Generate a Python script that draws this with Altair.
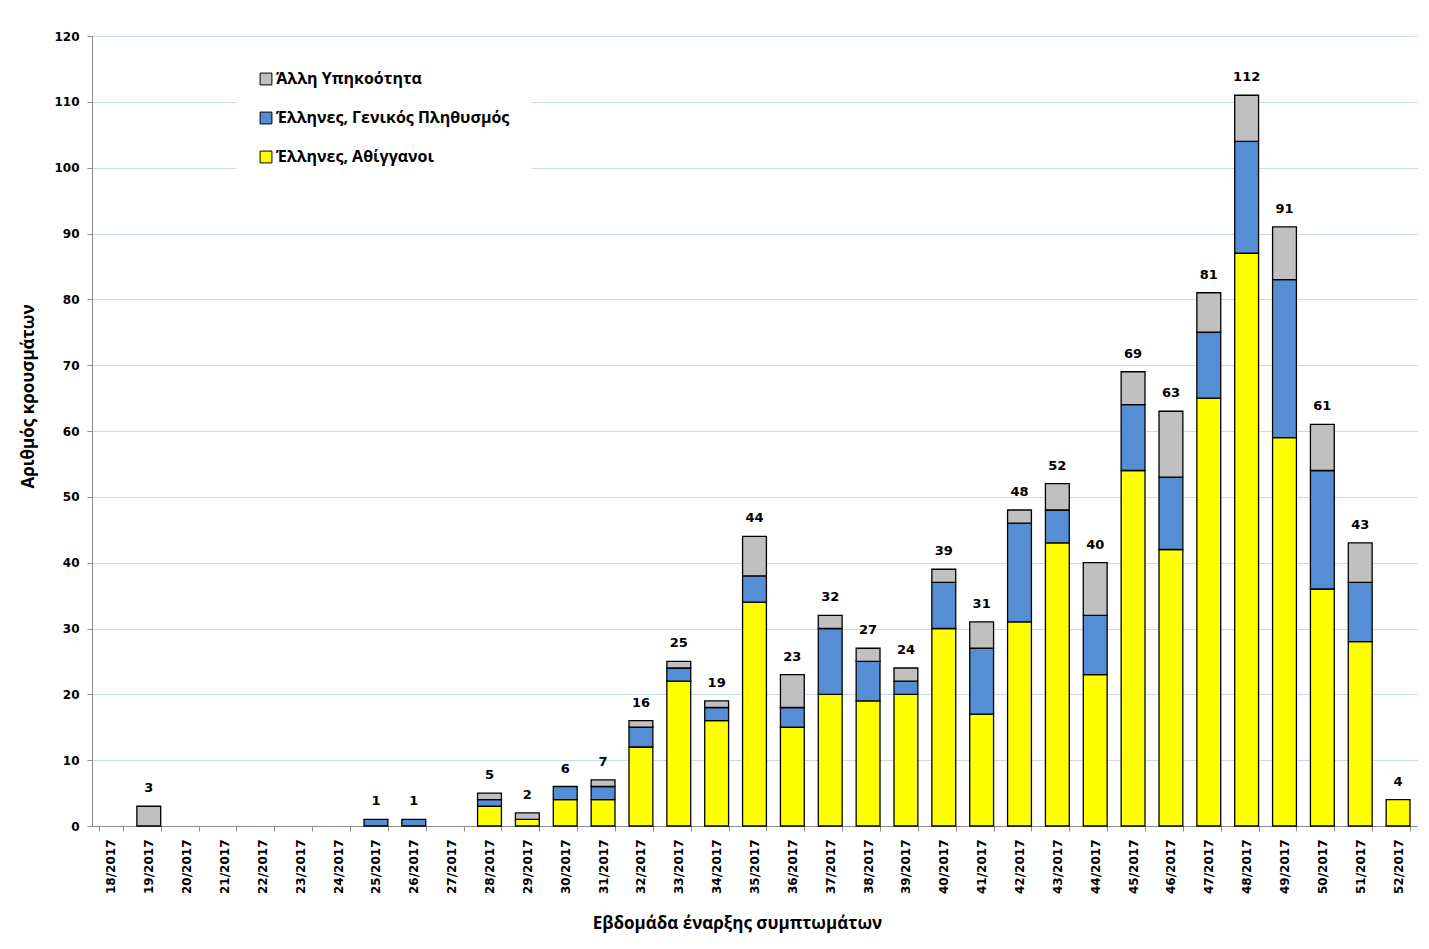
import altair as alt
import pandas as pd

weeks = ["18/2017", "19/2017", "20/2017", "21/2017", "22/2017", "23/2017", "24/2017",
         "25/2017", "26/2017", "27/2017", "28/2017", "29/2017", "30/2017", "31/2017",
         "32/2017", "33/2017", "34/2017", "35/2017", "36/2017", "37/2017", "38/2017",
         "39/2017", "40/2017", "41/2017", "42/2017", "43/2017", "44/2017", "45/2017",
         "46/2017", "47/2017", "48/2017", "49/2017", "50/2017", "51/2017", "52/2017"]

roma = [0, 0, 0, 0, 0, 0, 0, 0, 0, 0,
        3, 1, 4, 4, 12, 22, 16, 34, 15, 20,
        19, 20, 30, 17, 31, 43, 23, 54, 42, 65,
        87, 59, 36, 28, 4]
general = [0, 0, 0, 0, 0, 0, 0, 1, 1, 0,
           1, 0, 2, 2, 3, 2, 2, 4, 3, 10,
           6, 2, 7, 10, 15, 5, 9, 10, 11, 10,
           17, 24, 18, 9, 0]
other = [0, 3, 0, 0, 0, 0, 0, 0, 0, 0,
         1, 1, 0, 1, 1, 1, 1, 6, 5, 2,
         2, 2, 2, 4, 2, 4, 8, 5, 10, 6,
         7, 8, 7, 6, 0]
total_labels = [0, 3, 0, 0, 0, 0, 0, 1, 1, 0,
                5, 2, 6, 7, 16, 25, 19, 44, 23, 32,
                27, 24, 39, 31, 48, 52, 40, 69, 63, 81,
                112, 91, 61, 43, 4]

s_other = "Άλλη Υπηκοότητα"
s_general = "Έλληνες, Γενικός Πληθυσμός"
s_roma = "Έλληνες, Αθίγγανοι"
series_names = [s_other, s_general, s_roma]
series_colors = ["#C0C0C0", "#558ED5", "#FFFF00"]

rows = []
for i, w in enumerate(weeks):
    for name, vals, order in [(s_roma, roma, 0), (s_general, general, 1), (s_other, other, 2)]:
        if vals[i] > 0:
            rows.append({"week": w, "series": name, "value": vals[i], "order": order})
df = pd.DataFrame(rows)

lab_rows = []
for i, w in enumerate(weeks):
    top = roma[i] + general[i] + other[i]
    if total_labels[i] > 0:
        lab_rows.append({"week": w, "top": top, "label": str(total_labels[i])})
df_lab = pd.DataFrame(lab_rows)

x_enc = alt.X("week:N", sort=weeks, scale=alt.Scale(domain=weeks, paddingInner=0.37, paddingOuter=0.185),
              axis=alt.Axis(title="Εβδομάδα έναρξης συμπτωμάτων", labelAngle=270, tickBand="extent",
                            labelPadding=8, titlePadding=22, tickSize=5, titleX=645))

bars = alt.Chart(df).mark_bar(stroke="black", strokeWidth=1.3).encode(
    x=x_enc,
    y=alt.Y("value:Q", stack="zero",
            scale=alt.Scale(domain=[0, 120], nice=False),
            axis=alt.Axis(title="Αριθμός κρουσμάτων", values=list(range(0, 121, 10)),
                          tickSize=5, labelPadding=8, titlePadding=16, titleY=360)),
    color=alt.Color("series:N", scale=alt.Scale(domain=series_names, range=series_colors),
                    legend=alt.Legend(title=None, orient="none", legendX=144, legendY=13,
                                      fillColor="white", padding=22, symbolType="square",
                                      symbolSize=140, symbolStrokeColor="black",
                                      symbolStrokeWidth=1, labelFont="Open Sans",
                                      labelFontWeight="bold", labelFontSize=16,
                                      labelColor="black", rowPadding=23, labelOffset=2,
                                      labelLimit=400)),
    order=alt.Order("order:Q", sort="ascending"),
)

texts = alt.Chart(df_lab).mark_text(baseline="bottom", dy=-11, font="DejaVu Sans",
                                    fontWeight="bold", fontSize=13, color="black").encode(
    x=alt.X("week:N", sort=weeks),
    y=alt.Y("top:Q"),
    text="label:N",
)

chart = (bars + texts).properties(
    width=1325, height=790,
    padding={"left": 19, "top": 30, "right": 8, "bottom": 8},
).configure_view(stroke=None).configure_axis(
    labelFont="DejaVu Sans", labelFontWeight="bold", labelFontSize=12, labelColor="black",
    titleFont="Open Sans", titleFontWeight="bold", titleFontSize=17, titleColor="black",
    domainColor="#8c8c8c", tickColor="#8c8c8c", gridColor="#c9d7ef", gridWidth=1,
).configure_axisX(grid=False).configure_axisY(grid=True)

chart.save("out.html", embed_options={"renderer": "svg", "actions": False})
